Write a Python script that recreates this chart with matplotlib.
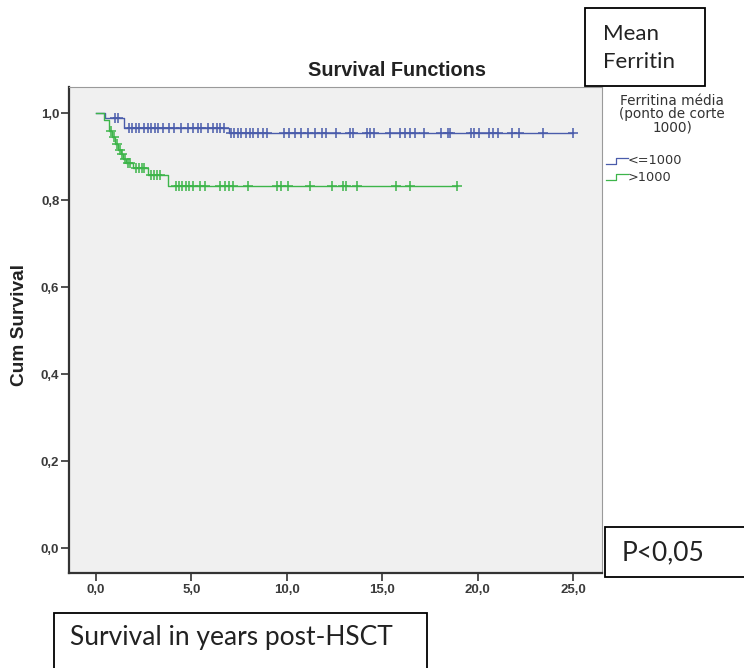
import numpy as np
import matplotlib
matplotlib.use("Agg")
import matplotlib.pyplot as plt
from matplotlib.patches import Rectangle
from matplotlib.lines import Line2D

# Kaplan-Meier steps: time of each event (years) and survival after it
low_event_t = [0.0, 0.5, 1.5, 6.95]
low_event_s = [1.0, 0.988, 0.966, 0.955]
low_end = 25.0
low_censor = [1.0, 1.15, 1.74, 1.92, 2.10, 2.28, 2.55, 2.73, 2.91, 3.09, 3.27,
              3.54, 3.82, 4.09, 4.45, 4.81, 5.08, 5.35, 5.53, 5.89, 6.16, 6.34,
              6.52, 6.71, 7.07, 7.25, 7.43, 7.61, 7.88, 8.06, 8.24, 8.51, 8.78,
              8.96, 9.86, 10.14, 10.41, 10.77, 11.13, 11.49, 11.85, 12.03,
              12.57, 13.30, 13.48, 14.20, 14.38, 14.56, 15.38, 15.91, 16.19,
              16.46, 16.73, 17.18, 18.08, 18.44, 18.53, 19.62, 19.80, 20.07,
              20.61, 20.79, 21.06, 21.78, 22.15, 23.41, 25.0]

high_event_t = [0.0, 0.45, 0.7, 0.85, 1.0, 1.15, 1.3, 1.45, 1.6, 1.95, 2.75, 3.8]
high_event_s = [1.0, 0.985, 0.96, 0.945, 0.93, 0.915, 0.905, 0.895, 0.885,
                0.873, 0.857, 0.832]
high_end = 18.9
high_censor = [0.8, 0.95, 1.1, 1.25, 1.4, 1.55, 1.7, 1.8, 2.1, 2.25, 2.4, 2.55,
               2.9, 3.05, 3.2, 3.35, 4.18, 4.36, 4.54, 4.72, 4.90, 5.08, 5.44,
               5.71, 6.52, 6.76, 6.97, 7.16, 7.97, 9.50, 9.68, 10.05, 11.22,
               12.39, 12.93, 13.12, 13.65, 15.73, 16.46, 18.9]

group_labels = ["<=1000", ">1000"]
xticks = [0, 5, 10, 15, 20, 25]
yticks = [0.0, 0.2, 0.4, 0.6, 0.8, 1.0]

BLUE = "#4a5cab"
GREEN = "#3db54a"
W, H = 744, 668


def fx(px):
    return px / W


def fy(py):
    return 1 - py / H


def km_level(times, surv, t):
    i = np.searchsorted(times, t, side="right") - 1
    return np.asarray(surv)[i]


fig = plt.figure(figsize=(W / 100, H / 100), dpi=100)
fig.patch.set_facecolor("white")
ax = fig.add_axes([fx(69), fy(573), fx(602) - fx(69), fy(87) - fy(573)])
ax.set_facecolor("#f0f0f0")

for et, es, end, cens, col in [
    (low_event_t, low_event_s, low_end, low_censor, BLUE),
    (high_event_t, high_event_s, high_end, high_censor, GREEN),
]:
    t = list(et) + [end]
    s = list(es) + [es[-1]]
    ax.step(t, s, where="post", color=col, lw=1.0)
    c = np.array(cens)
    ax.plot(c, km_level(et, es, c), ls="none", marker="+", ms=6.5, mew=1.1,
            color=col)

ax.set_xlim(-1.4, 26.5)
ax.set_ylim(-0.057, 1.06)
ax.set_xticks(xticks)
ax.set_xticklabels([f"{v:.1f}".replace(".", ",") for v in xticks])
ax.set_yticks(yticks)
ax.set_yticklabels([f"{v:.1f}".replace(".", ",") for v in yticks])
ax.tick_params(axis="both", length=6, width=1.2, color="#333333",
               labelsize=9.5, labelcolor="#3a3a3a")
ax.tick_params(axis="x", pad=2)
ax.tick_params(axis="y", pad=1)
for lab in ax.get_xticklabels() + ax.get_yticklabels():
    lab.set_family("Liberation Sans")
    lab.set_fontweight("bold")

ax.spines["left"].set_color("#333333")
ax.spines["bottom"].set_color("#333333")
ax.spines["left"].set_linewidth(1.6)
ax.spines["bottom"].set_linewidth(1.6)
ax.spines["top"].set_color("#9a9a9a")
ax.spines["right"].set_color("#9a9a9a")

fig.text(fx(397), fy(71), "Survival Functions", ha="center", va="center",
         fontsize=14.3, fontweight="bold", family="Liberation Sans",
         color="#222222")
fig.text(fx(19.5), fy(325), "Cum Survival", ha="center", va="center",
         rotation=90, fontsize=13.8, fontweight="bold",
         family="Liberation Sans", color="#222222")

# legend
fig.text(fx(672), fy(114), "Ferritina média\n(ponto de corte\n1000)",
         ha="center", va="center", fontsize=9.8, linespacing=0.92,
         family="DejaVu Sans", color="#333333")
for yc, col, lab in [(161, BLUE, group_labels[0]), (177, GREEN, group_labels[1])]:
    xs = [606, 616, 616, 628]
    ys = [yc + 3, yc + 3, yc - 3, yc - 3]
    fig.add_artist(Line2D([fx(v) for v in xs], [fy(v) for v in ys],
                          color=col, lw=0.9, transform=fig.transFigure))
    fig.text(fx(628), fy(yc), lab, ha="left", va="center", fontsize=9.3,
             family="DejaVu Sans", color="#333333")

# annotation boxes
for (x0, y0, x1, y1) in [(585, 8, 705, 86), (605, 527, 760, 577),
                         (54, 613, 427, 690)]:
    fig.add_artist(Rectangle((fx(x0), fy(y1)), fx(x1) - fx(x0),
                             fy(y0) - fy(y1), transform=fig.transFigure,
                             facecolor="white", edgecolor="black", lw=1.3,
                             clip_on=False))

fig.text(fx(603), fy(48), "Mean\nFerritin", ha="left", va="center",
         fontsize=16, linespacing=1.45, family="Lato", color="#222222")
fig.text(fx(622), fy(553), "P<0,05", ha="left", va="center", fontsize=19,
         family="Lato", color="#222222")
fig.text(fx(70), fy(638), "Survival in years post-HSCT", ha="left",
         va="center", fontsize=19, family="Lato", color="#222222")

fig.savefig("out.png", dpi=100)
